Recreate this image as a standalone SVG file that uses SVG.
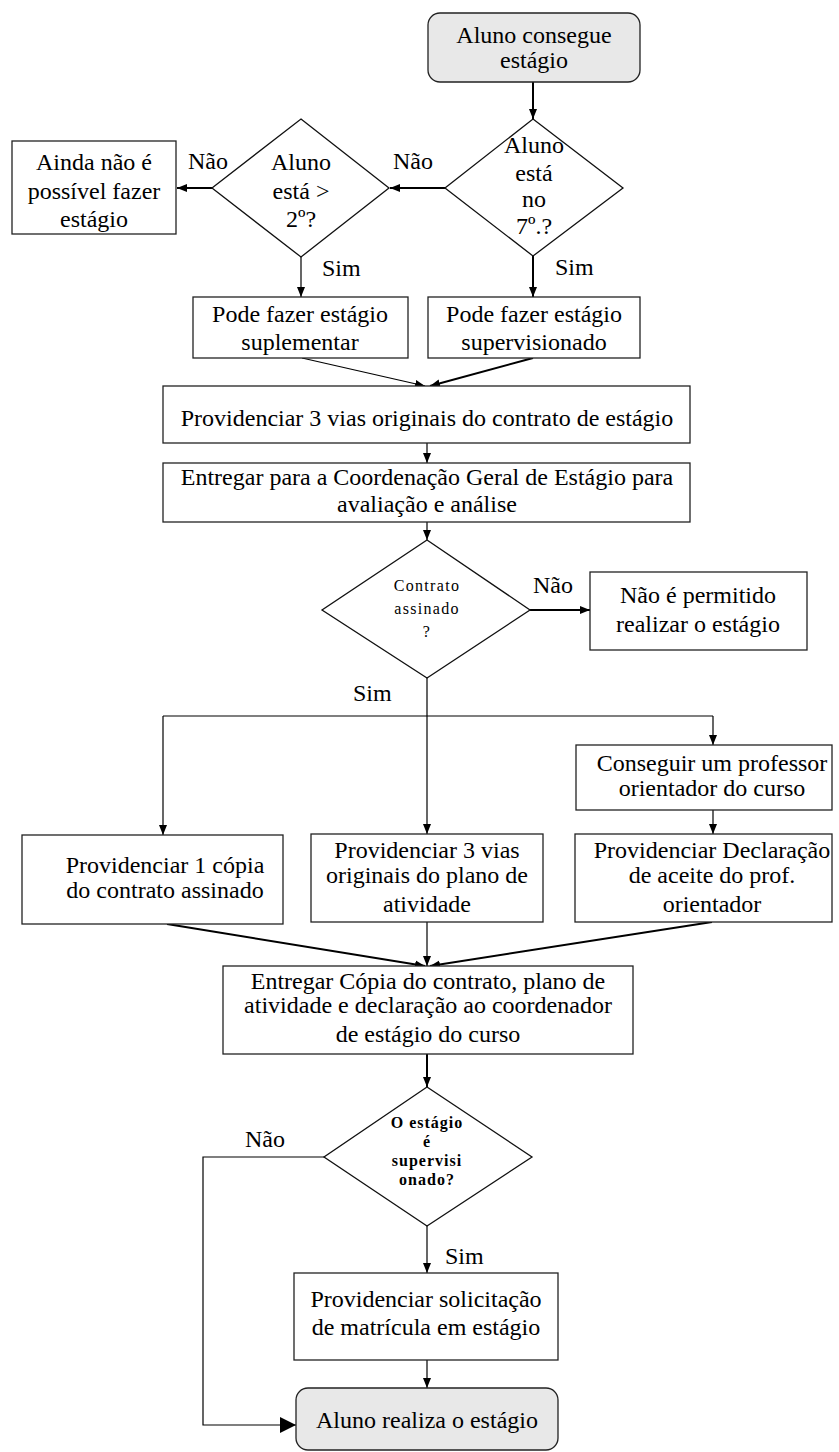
<svg xmlns="http://www.w3.org/2000/svg" width="839" height="1452" viewBox="0 0 839 1452" font-family="Liberation Serif, DejaVu Serif, serif">
<style>
text{font-family:Liberation Serif,DejaVu Serif,serif;font-size:24px;fill:#000;text-anchor:middle}
.sm{font-size:16px;letter-spacing:1.3px}
.smb{font-size:16px;font-weight:bold;letter-spacing:1px}
.lbl{text-anchor:start}
.box{fill:#fff;stroke:#222;stroke-width:1.3}
.term{fill:#e8e8e8;stroke:#222;stroke-width:1.3}
.dia{fill:#fff;stroke:#111;stroke-width:1.3}
.c{fill:none;stroke:#000;stroke-width:1.2}
.t{stroke-width:2}
</style>
<defs>
<marker id="a" markerUnits="userSpaceOnUse" markerWidth="10" markerHeight="10" viewBox="0 0 10 10" refX="10" refY="5" orient="auto"><path d="M0,1 L10,5 L0,9 Z" fill="#000"/></marker>
<marker id="b" markerUnits="userSpaceOnUse" markerWidth="16" markerHeight="16" viewBox="0 0 16 16" refX="16" refY="8" orient="auto"><path d="M0,0 L16,8 L0,16 Z" fill="#000"/></marker>
</defs>
<g id="connectors">
<path class="c t" d="M533,82 V119" marker-end="url(#a)"/>
<path class="c t" d="M445,188 H390" marker-end="url(#a)"/>
<path class="c t" d="M212,188 H177" marker-end="url(#a)"/>
<path class="c" d="M301,257 V297" marker-end="url(#a)"/>
<path class="c t" d="M533,256 V297" marker-end="url(#a)"/>
<path class="c" stroke-width="1" d="M302,358 L425,386" marker-end="url(#a)"/>
<path class="c t" d="M533,358 L430,386" marker-end="url(#a)"/>
<path class="c" d="M427,443 V463" marker-end="url(#a)"/>
<path class="c" d="M427,522 V540" marker-end="url(#a)"/>
<path class="c t" d="M530,610 H590" marker-end="url(#a)"/>
<path class="c" d="M427,678 V716 M163,716 H713"/>
<path class="c" d="M163,716 V835" marker-end="url(#a)"/>
<path class="c" d="M427,716 V834" marker-end="url(#a)"/>
<path class="c" d="M713,716 V745" marker-end="url(#a)"/>
<path class="c" d="M713,810 V834" marker-end="url(#a)"/>
<path class="c t" d="M167,924 L425,966" marker-end="url(#a)"/>
<path class="c" d="M427,922 V966" marker-end="url(#a)"/>
<path class="c t" d="M712,922 L430,966" marker-end="url(#a)"/>
<path class="c t" d="M427,1054 V1087" marker-end="url(#a)"/>
<path class="c" d="M427,1226 V1273" marker-end="url(#a)"/>
<path class="c" d="M427,1360 V1388" marker-end="url(#a)"/>
<path class="c" d="M324,1157 H203 V1425 H296" marker-end="url(#b)"/>
<text class="lbl" x="188" y="169">Não</text>
<text class="lbl" x="393" y="169">Não</text>
<text class="lbl" x="322" y="276">Sim</text>
<text class="lbl" x="555" y="275">Sim</text>
<text class="lbl" x="533" y="593">Não</text>
<text class="lbl" x="353" y="701">Sim</text>
<text class="lbl" x="245" y="1147">Não</text>
<text class="lbl" x="445" y="1264">Sim</text>
</g>
<g id="n-start">
<rect class="term" x="428" y="13" width="212" height="69" rx="12"/>
<text x="534" y="43">Aluno consegue</text>
<text x="534" y="68">estágio</text>
</g>
<g id="d-7">
<polygon class="dia" points="533,119 623,188 533,256 445,188"/>
<text x="534" y="153">Aluno</text>
<text x="534" y="181">está</text>
<text x="534" y="207">no</text>
<text x="534" y="234">7º.?</text>
</g>
<g id="d-2">
<polygon class="dia" points="301,119 389,188 301,257 212,188"/>
<text x="301" y="170">Aluno</text>
<text x="301" y="199">está &gt;</text>
<text x="301" y="227">2º?</text>
</g>
<g id="n-ainda">
<rect class="box" x="12" y="141" width="164" height="93"/>
<text x="94" y="170">Ainda não é</text>
<text x="94" y="199">possível fazer</text>
<text x="94" y="227">estágio</text>
</g>
<g id="n-suplementar">
<rect class="box" x="193" y="297" width="215" height="61"/>
<text x="300" y="322">Pode fazer estágio</text>
<text x="300" y="350">suplementar</text>
</g>
<g id="n-supervisionado">
<rect class="box" x="428" y="297" width="212" height="61"/>
<text x="534" y="322">Pode fazer estágio</text>
<text x="534" y="350">supervisionado</text>
</g>
<g id="n-contrato">
<rect class="box" x="163" y="386" width="527" height="57"/>
<text x="427" y="426">Providenciar 3 vias originais do contrato de estágio</text>
</g>
<g id="n-entregar-coord">
<rect class="box" x="163" y="463" width="527" height="59"/>
<text x="427" y="485">Entregar para a Coordenação Geral de Estágio para</text>
<text x="427" y="512">avaliação e análise</text>
</g>
<g id="d-assinado">
<polygon class="dia" points="427,540 530,610 427,678 322,610"/>
<text class="sm" x="427" y="591">Contrato</text>
<text class="sm" x="427" y="614">assinado</text>
<text class="sm" x="427" y="637">?</text>
</g>
<g id="n-nao-permitido">
<rect class="box" x="590" y="572" width="217" height="78"/>
<text x="698" y="603">Não é permitido</text>
<text x="698" y="632">realizar o estágio</text>
</g>
<g id="n-copia">
<rect class="box" x="22" y="835" width="261" height="89"/>
<text x="165" y="873">Providenciar 1 cópia</text>
<text x="165" y="898">do contrato assinado</text>
</g>
<g id="n-plano">
<rect class="box" x="311" y="834" width="232" height="88"/>
<text x="427" y="858">Providenciar 3 vias</text>
<text x="427" y="883">originais do plano de</text>
<text x="427" y="912">atividade</text>
</g>
<g id="n-professor">
<rect class="box" x="576" y="745" width="256" height="65"/>
<text x="712" y="771">Conseguir um professor</text>
<text x="712" y="796">orientador do curso</text>
</g>
<g id="n-declaracao">
<rect class="box" x="575" y="834" width="257" height="88"/>
<text x="712" y="858">Providenciar Declaração</text>
<text x="712" y="883">de aceite do prof.</text>
<text x="712" y="912">orientador</text>
</g>
<g id="n-entregar-copia">
<rect class="box" x="223" y="966" width="410" height="88"/>
<text x="428" y="989">Entregar Cópia do contrato, plano de</text>
<text x="428" y="1013">atividade e declaração ao coordenador</text>
<text x="428" y="1042">de estágio do curso</text>
</g>
<g id="d-supervisionado">
<polygon class="dia" points="427,1087 532,1157 427,1226 324,1157"/>
<text class="smb" x="427" y="1128">O estágio</text>
<text class="smb" x="427" y="1147">é</text>
<text class="smb" x="427" y="1166">supervisi</text>
<text class="smb" x="427" y="1185">onado?</text>
</g>
<g id="n-solicitacao">
<rect class="box" x="294" y="1273" width="264" height="87"/>
<text x="426" y="1307">Providenciar solicitação</text>
<text x="426" y="1335">de matrícula em estágio</text>
</g>
<g id="n-end">
<rect class="term" x="296" y="1388" width="262" height="62" rx="12"/>
<text x="427" y="1428">Aluno realiza o estágio</text>
</g>
</svg>
